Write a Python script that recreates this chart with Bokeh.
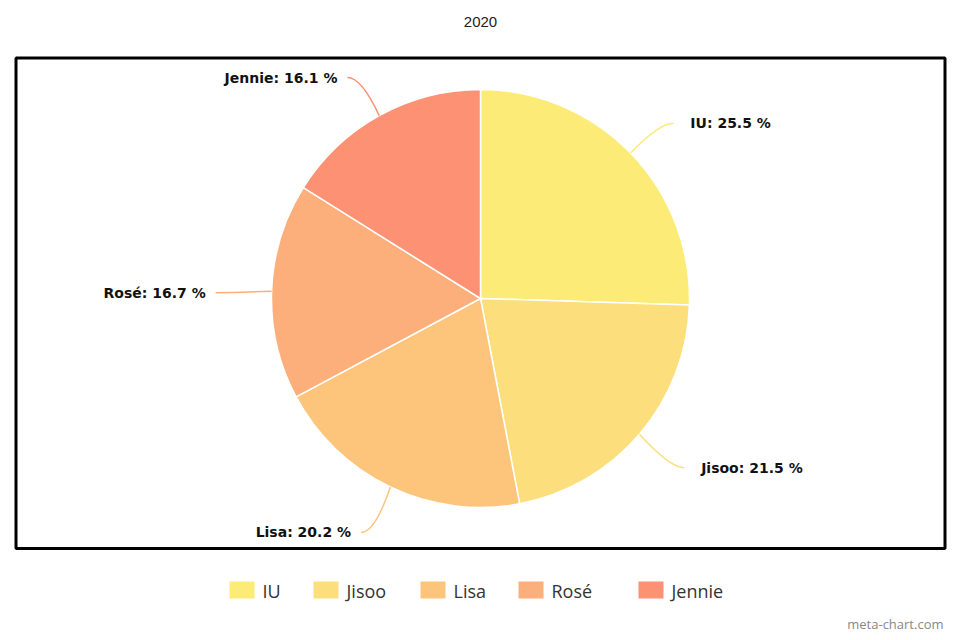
import math
from bokeh.plotting import figure
from bokeh.models import Range1d
from bokeh.core.properties import value
from bokeh.embed import file_html
from bokeh.resources import INLINE

# ---- data ----
title_text = "2020"
names = ["IU", "Jisoo", "Lisa", "Rosé", "Jennie"]
shares = [25.5, 21.5, 20.2, 16.7, 16.1]
colors = ["#FDEB78", "#FCDF7C", "#FCC57B", "#FCAE7B", "#FC9173"]

# ---- layout (picture pixels, y measured downward from the top) ----
W, H = 952, 632
def Y(img_y):
    return H - img_y

p = figure(width=W, height=H, output_backend="svg", toolbar_location=None,
           x_range=Range1d(0, W), y_range=Range1d(0, H),
           min_border=0, outline_line_color=None, background_fill_color="white")
p.axis.visible = False
p.grid.visible = False

# frame
p.quad(left=[15.5], right=[944.5], top=[Y(57.5)], bottom=[Y(548)],
       fill_color=None, line_color="black", line_width=3)

# title
p.text(x=[480], y=[Y(21)], text=[title_text], text_align="center", text_baseline="middle",
       text_font=value("Liberation Sans"), text_font_size="15px", text_color="#222222")

# pie
cx, cy, r = 480, Y(298), 209
total = sum(shares)
start = 0.0
label_font = value("DejaVu Sans")
for name, s, c in zip(names, shares, colors):
    frac0 = start / total
    frac1 = (start + s) / total
    a0 = math.pi / 2 - frac0 * 2 * math.pi
    a1 = math.pi / 2 - frac1 * 2 * math.pi
    p.wedge(x=[cx], y=[cy], radius=r, start_angle=[a0], end_angle=[a1], direction="clock",
            fill_color=c, line_color="white", line_width=1.5)
    mid = (a0 + a1) / 2
    dx, dy = math.cos(mid), math.sin(mid)
    ex, ey = cx + r * dx, cy + r * dy
    bx, by = cx + (r + 47) * dx, cy + (r + 47) * dy - 3
    side = 1 if dx >= 0 else -1
    tx = bx + 9 * side
    p.quadratic(x0=[ex], y0=[ey], x1=[tx], y1=[by], cx=[bx - 5 * side], cy=[by],
                line_color=c, line_width=1.5)
    label = f"{name}: {s:.1f} %"
    p.text(x=[tx + (17 if side > 0 else -10)], y=[by], text=[label],
           text_align="left" if side > 0 else "right", text_baseline="middle",
           text_font=label_font, text_font_style="bold", text_font_size="14px",
           text_color="#111111")
    start += s

# legend
leg_x = [229, 313, 420, 518, 638]
for lx, name, c in zip(leg_x, names, colors):
    p.quad(left=[lx], right=[lx + 25], top=[Y(581)], bottom=[Y(598)], fill_color=c, line_color=None)
    p.text(x=[lx + 33], y=[Y(590)], text=[name], text_align="left", text_baseline="middle",
           text_font=value("Open Sans"), text_font_size="18px", text_color="#333333")

# watermark
p.text(x=[943], y=[Y(623)], text=["meta-chart.com"], text_align="right", text_baseline="middle",
       text_font=value("Open Sans"), text_font_size="13px", text_color="#888888")

open("out.html", "w").write(file_html(p, INLINE))
